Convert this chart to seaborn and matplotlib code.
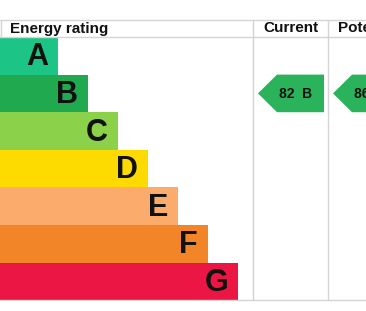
import matplotlib
matplotlib.use("Agg")
import matplotlib.pyplot as plt
import seaborn as sns
import pandas as pd
from matplotlib.patches import Polygon

# ---- data ----
bands = ["A", "B", "C", "D", "E", "F", "G"]
bar_lengths = [58, 88, 118, 148, 178, 208, 238]
band_colors = ["#1cc586", "#21a94f", "#8bd14a", "#fedb00", "#fbab6b", "#f38529", "#eb1643"]
columns = ["Energy rating", "Current", "Potential"]
current_score = 82
current_band = "B"
potential_score = 86
potential_band = "B"
arrow_color = "#2bb35b"

df = pd.DataFrame({"band": bands, "length": bar_lengths})

sns.set_theme(style="white")
plt.rcParams["font.family"] = ["Liberation Sans", "DejaVu Sans"]

fig = plt.figure(figsize=(3.66, 3.11), dpi=100)
ax = fig.add_axes([0, 0, 1, 1])

sns.barplot(data=df, x="length", y="band", hue="band", palette=band_colors,
            orient="h", width=1.0, dodge=False, legend=False, ax=ax, saturation=1,
            linewidth=0, edgecolor="none")

# pixel-like scales: 37.6 px per band, bars start at y=37
px = 37.6
top0 = 37
ax.set_xlim(0, 366)
ax.set_ylim((311 - top0) / px - 0.5, (0 - top0) / px - 0.5)
ax.axis("off")

def ypix(p):
    return (p - top0) / px - 0.5

# band letters
for i, (b, L) in enumerate(zip(bands, bar_lengths)):
    ax.text(L - 10, i + 0.04, b, ha="right", va="center", fontsize=22,
            fontweight="bold", color="#111111")

# grid lines
lc = "#d4d4d4"
col_x = [253, 328]
ax.plot([0, 366], [ypix(19.5)] * 2, color=lc, lw=1)
ax.plot([0, 366], [ypix(37)] * 2, color=lc, lw=1)
ax.plot([0, 366], [ypix(300)] * 2, color=lc, lw=1)
ax.plot([0.5, 0.5], [ypix(19.5), ypix(37)], color=lc, lw=1)
for cx in col_x:
    ax.plot([cx, cx], [ypix(19.5), ypix(300)], color=lc, lw=1)

# headers
hy = ypix(28.5)
ax.text(10, hy, columns[0], ha="left", va="center", fontsize=11, fontweight="bold", color="#111111")
ax.text((col_x[0] + col_x[1]) / 2, hy, columns[1], ha="center", va="center",
        fontsize=11, fontweight="bold", color="#111111")
ax.text(col_x[1] + 10, hy, columns[2], ha="left", va="center", fontsize=11,
        fontweight="bold", color="#111111", clip_on=True)

# arrows
def arrow(x0, x1, band, label):
    i = bands.index(band)
    h = 0.5
    tip = 19
    poly = Polygon([(x0, i), (x0 + tip, i - h), (x1, i - h), (x1, i + h), (x0 + tip, i + h)],
                   closed=True, facecolor=arrow_color, edgecolor="none")
    ax.add_patch(poly)
    ax.text(x0 + tip + 2, i + 0.02, label, ha="left", va="center", fontsize=10,
            fontweight="bold", color="#111111", clip_on=True)

arrow(col_x[0] + 5, col_x[1] - 4, current_band, f"{current_score}  {current_band}")
arrow(col_x[1] + 5, col_x[1] + 80, potential_band, f"{potential_score}  {potential_band}")

fig.savefig("out.png", dpi=100)
